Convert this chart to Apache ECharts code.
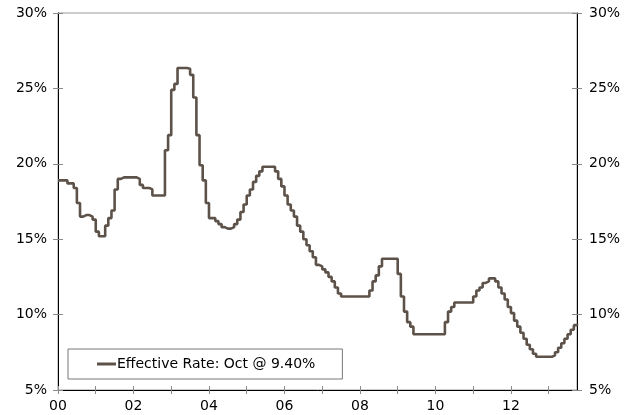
<!DOCTYPE html>
<html>
<head>
<meta charset="utf-8">
<script src="https://cdn.jsdelivr.net/npm/echarts@6/dist/echarts.min.js"></script>
<style>html,body{margin:0;padding:0;background:#fff}#c{width:634px;height:415px}</style>
</head>
<body>
<div id="c"></div>
<script>
// Monthly effective rate (%), Jan 2000 .. Oct 2013
const startYear = 2000;
const rate = [
  18.9,18.9,18.9,18.7,18.7,18.4,17.4,16.5,16.6,16.6,16.5,16.3,
  15.5,15.2,15.2,15.9,16.4,16.9,18.3,19.0,19.1,19.1,19.1,19.1,
  19.1,19.0,18.6,18.4,18.4,18.3,17.9,17.9,17.9,17.9,20.9,21.9,
  24.9,25.3,26.35,26.35,26.35,26.3,25.9,24.4,21.9,19.9,18.9,17.4,
  16.4,16.4,16.2,16.0,15.8,15.7,15.7,15.8,16.0,16.3,16.8,17.3,
  17.9,18.3,18.8,19.2,19.5,19.8,19.8,19.8,19.8,19.5,19.0,18.5,
  17.9,17.3,16.9,16.5,15.9,15.5,15.0,14.6,14.2,13.8,13.3,13.2,
  13.0,12.8,12.5,12.2,11.8,11.4,11.2,11.2,11.2,11.2,11.2,11.2,
  11.2,11.2,11.2,11.6,12.2,12.6,13.2,13.7,13.7,13.7,13.7,13.7,
  12.7,11.2,10.2,9.5,9.2,8.7,8.7,8.7,8.7,8.7,8.7,8.7,
  8.7,8.7,8.7,9.5,10.2,10.5,10.8,10.8,10.8,10.8,10.8,10.8,
  11.2,11.6,11.8,12.1,12.2,12.4,12.4,12.2,11.8,11.4,11.0,10.5,
  10.1,9.6,9.2,8.8,8.4,8.0,7.7,7.4,7.2,7.2,7.2,7.2,
  7.2,7.3,7.5,7.8,8.1,8.4,8.7,9.0,9.3,9.4
];
const seriesName = 'Effective Rate: Oct @ 9.40%';
const yTicks = [5, 10, 15, 20, 25, 30];

const months = rate.map((_, i) => {
  const y = startYear + Math.floor(i / 12);
  const m = (i % 12) + 1;
  return y + '-' + (m < 10 ? '0' + m : m);
});

const FONT = 'DejaVu Sans';
const lineColor = '#5d5249';
const tickColor = '#8a8a8a';

const chart = echarts.init(document.getElementById('c'), null, {renderer: 'canvas'});
const yBase = {
  type: 'value', min: yTicks[0], max: yTicks[yTicks.length - 1], interval: 5,
  splitLine: {show: false}
};
chart.setOption({
  animation: false,
  backgroundColor: '#fff',
  grid: {left: 58, right: 57, top: 13, bottom: 25, show: true, borderColor: '#999', borderWidth: 1, backgroundColor: 'transparent'},
  legend: {
    left: 68, top: 349,
    padding: [8, 27, 8, 29],
    borderColor: '#777', borderWidth: 1,
    backgroundColor: '#fff',
    itemWidth: 19, itemHeight: 3,
    icon: 'rect',
    textStyle: {fontFamily: FONT, fontSize: 14, color: '#000', padding: [0, 0, 0, -4]},
    data: [seriesName]
  },
  xAxis: [{
    type: 'category', data: months, boundaryGap: false,
    axisLine: {show: true, lineStyle: {color: '#000', width: 1}},
    axisTick: {show: true, inside: false, length: 4, interval: (i) => i % 12 === 0, lineStyle: {color: tickColor}},
    axisLabel: {
      fontFamily: FONT, fontSize: 14, color: '#000', margin: 9,
      interval: (i) => i % 24 === 0,
      formatter: (v) => v.slice(2, 4)
    },
    splitLine: {show: false}
  }, {
    type: 'category', data: months, boundaryGap: false, position: 'bottom',
    axisLine: {show: false},
    axisTick: {show: true, inside: true, length: 4, interval: (i) => i % 12 === 0, lineStyle: {color: tickColor}},
    axisLabel: {show: false},
    splitLine: {show: false}
  }],
  yAxis: [
    Object.assign({}, yBase, {
      position: 'left',
      axisLine: {show: true, lineStyle: {color: '#000', width: 1}},
      axisTick: {show: true, inside: false, length: 5, lineStyle: {color: tickColor}},
      axisLabel: {fontFamily: FONT, fontSize: 14, color: '#000', margin: 11, formatter: '{value}%'}
    }),
    Object.assign({}, yBase, {
      position: 'right',
      axisLine: {show: true, lineStyle: {color: '#000', width: 1}},
      axisTick: {show: true, inside: false, length: 5, lineStyle: {color: tickColor}},
      axisLabel: {fontFamily: FONT, fontSize: 14, color: '#000', margin: 12, formatter: '{value}%'}
    }),
    Object.assign({}, yBase, {
      position: 'left',
      axisLine: {show: false},
      axisTick: {show: true, inside: true, length: 5, lineStyle: {color: tickColor}},
      axisLabel: {show: false}
    }),
    Object.assign({}, yBase, {
      position: 'right',
      axisLine: {show: false},
      axisTick: {show: true, inside: true, length: 5, lineStyle: {color: tickColor}},
      axisLabel: {show: false}
    })
  ],
  series: [{
    name: seriesName,
    type: 'line',
    xAxisIndex: 0, yAxisIndex: 0,
    data: rate,
    step: 'end',
    showSymbol: false,
    symbol: 'none',
    color: lineColor,
    lineStyle: {color: lineColor, width: 2.6}
  }]
});
</script>
</body>
</html>
